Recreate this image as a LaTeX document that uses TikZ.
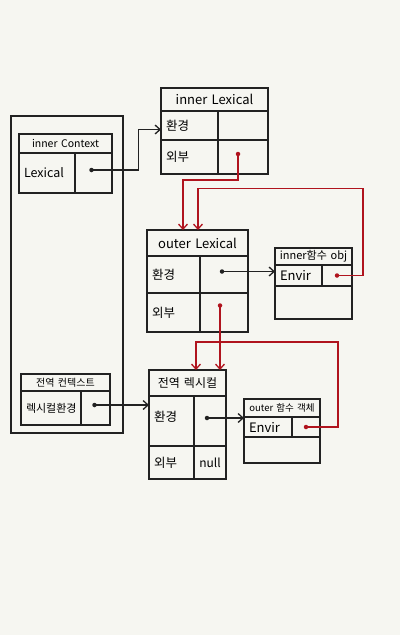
\documentclass[tikz,border=0pt]{standalone}
\usepackage{fontspec}
\newfontfamily\krfont{Noto Sans CJK KR}
\usetikzlibrary{arrows.meta}
\definecolor{paper}{HTML}{F6F6F1}
\definecolor{ink}{HTML}{222222}
\definecolor{wire}{HTML}{B0141E}

\begin{document}
\begin{tikzpicture}[
        x=1pt, y=-1pt,
        box/.style={draw=ink, line width=1.2pt, anchor=north west, inner sep=0pt, outer sep=0pt, font=\krfont\fontsize{12.5}{14}\selectfont},
        hcell/.style={box, align=center, text width=#1},
        lcell/.style={box, align=left, inner xsep=5pt, text width=#1},
        fs/.style={font=\krfont\fontsize{#1}{#1}\selectfont},
        dot/.style={circle, fill=#1, inner sep=0pt, minimum size=4.5pt},
        link/.style={-{Straight Barb[length=5pt,width=9pt]}, draw=ink, line width=1.3pt},
        rlink/.style={-{Straight Barb[length=5pt,width=9pt]}, draw=wire, line width=1.3pt}
    ]
        \fill[paper] (0,0) rectangle (400,635);
        \useasboundingbox (0,0) rectangle (400,635);

        % global frame
        \node[box, minimum width=112pt, minimum height=317pt] (frame) at (11,116) {};

        % inner context
        \node[hcell=93pt, minimum height=19pt, fs=10.5] (icHead) at (19,134) {inner Context};
        \node[lcell=46pt, minimum height=40pt, fs=12.5] (icLex) at (icHead.south west) {Lexical};
        \node[box, minimum width=37pt, minimum height=40pt] (icPtr) at (icLex.north east) {};

        % inner lexical
        \node[hcell=107pt, minimum height=23pt, fs=13] (ilHead) at (161,88) {inner Lexical};
        \node[lcell=47pt, minimum height=29pt] (ilEnvL) at (ilHead.south west) {환경};
        \node[box, minimum width=50pt, minimum height=29pt] (ilEnvR) at (ilEnvL.north east) {};
        \node[lcell=47pt, minimum height=34pt] (ilOutL) at (ilEnvL.south west) {외부};
        \node[box, minimum width=50pt, minimum height=34pt] (ilOutR) at (ilOutL.north east) {};

        % outer lexical
        \node[hcell=101pt, minimum height=26pt, fs=13] (olHead) at (147,230) {outer Lexical};
        \node[lcell=43pt, minimum height=37pt] (olEnvL) at (olHead.south west) {환경};
        \node[box, minimum width=48pt, minimum height=37pt] (olEnvR) at (olEnvL.north east) {};
        \node[lcell=43pt, minimum height=39pt] (olOutL) at (olEnvL.south west) {외부};
        \node[box, minimum width=48pt, minimum height=39pt] (olOutR) at (olOutL.north east) {};

        % inner function object
        \node[hcell=77pt, minimum height=17pt, fs=11] (ioHead) at (275,248) {inner함수 obj};
        \node[lcell=37pt, minimum height=21pt, fs=13] (ioEnvL) at (ioHead.south west) {Envir};
        \node[box, minimum width=30pt, minimum height=21pt] (ioEnvR) at (ioEnvL.north east) {};
        \node[box, minimum width=77pt, minimum height=33pt] (ioRest) at (ioEnvL.south west) {};

        % global context
        \node[hcell=89pt, minimum height=17pt, fs=10] (gcHead) at (21,374) {전역 컨텍스트};
        \node[lcell=50pt, minimum height=34pt, fs=11] (gcLex) at (gcHead.south west) {렉시컬환경};
        \node[box, minimum width=29pt, minimum height=34pt] (gcPtr) at (gcLex.north east) {};

        % global lexical
        \node[hcell=77pt, minimum height=26pt, fs=12] (glHead) at (149,370) {전역 렉시컬};
        \node[lcell=35pt, minimum height=50pt, text depth=10pt] (glEnvL) at (glHead.south west) {환경};
        \node[box, minimum width=32pt, minimum height=50pt] (glEnvR) at (glEnvL.north east) {};
        \node[lcell=35pt, minimum height=33pt] (glOutL) at (glEnvL.south west) {외부};
        \node[hcell=32pt, minimum height=33pt, fs=12] (glOutR) at (glOutL.north east) {null};

        % outer function object
        \node[hcell=76pt, minimum height=18pt, fs=9.5] (ofHead) at (244,399) {outer 함수 객체};
        \node[lcell=38pt, minimum height=20pt, fs=13] (ofEnvL) at (ofHead.south west) {Envir};
        \node[box, minimum width=28pt, minimum height=20pt] (ofEnvR) at (ofEnvL.north east) {};
        \node[box, minimum width=76pt, minimum height=26pt] (ofRest) at (ofEnvL.south west) {};

        % pointer dots
        \node[dot=ink] (dIc) at ([xshift=-2pt,yshift=3pt]icPtr.center) {};
        \node[dot=wire] (dIl) at ([xshift=-5pt,yshift=3pt]ilOutR.center) {};
        \node[dot=ink] (dOl) at ([xshift=-2pt,yshift=3pt]olEnvR.center) {};
        \node[dot=wire] (dOo) at ([xshift=-4pt,yshift=7pt]olOutR.center) {};
        \node[dot=wire] (dIo) at (ioEnvR.center) {};
        \node[dot=ink] (dGc) at ([xshift=-1pt,yshift=3pt]gcPtr.center) {};
        \node[dot=ink] (dGl) at ([xshift=-3pt,yshift=3pt]glEnvR.center) {};
        \node[dot=wire] (dOf) at (ofEnvR.center) {};

        % black links
        \draw[link] (dIc.center) -- ++(47,0) |- ([yshift=-4pt]ilEnvL.west);
        \draw[link] (dOl.center) -- (dOl.center -| ioEnvL.west);
        \draw[link] (dGc.center) -- (dGc.center -| glEnvL.west);
        \draw[link] (dGl.center) -- (dGl.center -| ofEnvL.west);

        % red links
        \draw[rlink] (dIl.center) -- ++(0,26) -| ([xshift=36pt]olHead.north west);
        \draw[rlink] (dIo.center) -| ++(26,-87) -| ([xshift=51pt]olHead.north west);
        \draw[rlink] (dOo.center) -- (dOo.center |- glHead.north);
        \draw[rlink] (dOf.center) -| ++(32,-85) -| ([xshift=47pt]glHead.north west);
    \end{tikzpicture}
\end{document}
